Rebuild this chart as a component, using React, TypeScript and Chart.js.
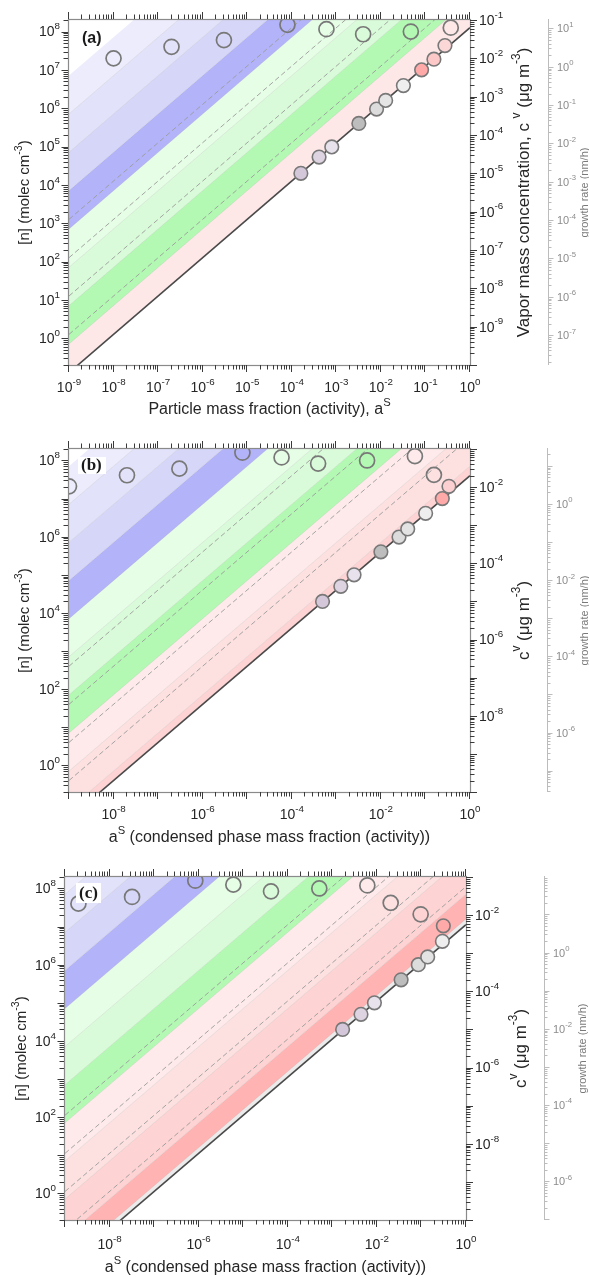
import React, { useEffect, useRef } from "react";
import { Chart, registerables } from "chart.js";

Chart.register(...registerables);

const SANS = '"Liberation Sans", Arial, Helvetica, sans-serif';
const SERIF = '"Liberation Serif", "Times New Roman", serif';

// ---- axis extents ----
const AS_MIN = 1e-9;
const AS_MAX = 1;
const N_MIN = 0.2;
const N_MAX = 2e8;
const CV_PER_N = 5e-10; // µg m^-3 per molec cm^-3

// ---- labelled decades ----
const X_EXP_A = [-9, -8, -7, -6, -5, -4, -3, -2, -1, 0];
const X_EXP_BC = [-8, -6, -4, -2, 0];
const N_EXP_A = [0, 1, 2, 3, 4, 5, 6, 7, 8];
const N_EXP_BC = [0, 2, 4, 6, 8];
const CV_EXP_A = [-9, -8, -7, -6, -5, -4, -3, -2, -1];
const CV_EXP_BC = [-8, -6, -4, -2];
const GR_EXP_A = [-7, -6, -5, -4, -3, -2, -1, 0, 1];
const GR_EXP_BC = [-6, -4, -2, 0];

// growth rate (nm/h) per molec cm^-3
const GR_PER_N_A = 8.3e-8;
const GR_PER_N_B = 1.38e-7;
const GR_PER_N_C = 4.8e-7;

// saturation [n] at a^s = 1
const SAT_A = 1.26e8;
const SAT_B = 4.0e7;
const SAT_C = 1.12e7;

// supersaturation of the dashed iso-lines
const DASH_RATIOS = [10, 100, 1000, 10000];

// band edges: log10 [n] at a^s = 1, top to bottom
const EDGES_A = [15.85, 14.85, 13.85, 12.85, 11.85, 10.85, 9.85, 8.85, 8.1];
const EDGES_B = [16.85, 15.85, 14.85, 13.85, 12.85, 11.85, 10.85, 9.85, 8.85, 7.85, 7.6];
const EDGES_C = [19, 16.85, 15.85, 14.85, 13.85, 12.85, 11.85, 10.85, 9.85, 8.85, 7.85, 7.2, 7.05];

// particle-phase points sitting on the saturation line
const FILLED_AS_A = [1.6e-4, 4.1e-4, 7.9e-4, 3.2e-3, 8.0e-3, 1.28e-2, 3.2e-2, 8.2e-2, 0.155, 0.274];
const FILLED_N_A = [2.0e4, 5.3e4, 9.8e4, 4.0e5, 9.5e5, 1.6e6, 3.9e6, 1.0e7, 1.9e7, 4.3e7];
const FILLED_AS_B = [4.9e-4, 1.26e-3, 2.5e-3, 1.0e-2, 2.55e-2, 4.0e-2, 0.101, 0.239, 0.337];
const FILLED_N_B = [2.0e4, 5.0e4, 1.0e5, 4.0e5, 9.8e5, 1.6e6, 4.1e6, 1.0e7, 2.1e7];
const FILLED_AS_C = [1.7e-3, 4.4e-3, 8.8e-3, 3.5e-2, 8.5e-2, 0.138, 0.295, 0.31];
const FILLED_N_C = [2.0e4, 5.0e4, 1.0e5, 4.0e5, 1.0e6, 1.6e6, 4.1e6, 1.05e7];

// open markers
const OPEN_AS_A = [1e-8, 2e-7, 3e-6, 8e-5, 6e-4, 4e-3, 4.7e-2, 0.37];
const OPEN_N_A = [2e7, 4e7, 6e7, 1.5e8, 1.15e8, 8.5e7, 1e8, 1.26e8];
const OPEN_AS_B = [1e-9, 2e-8, 3e-7, 7.8e-6, 5.9e-5, 3.9e-4, 4.9e-3, 5.8e-2, 0.155];
const OPEN_N_B = [2.1e7, 4.1e7, 6.1e7, 1.6e8, 1.2e8, 8.3e7, 1.0e8, 1.3e8, 4.2e7];
const OPEN_AS_C = [2e-9, 3.2e-8, 8.4e-7, 6e-6, 4.2e-5, 5.1e-4, 6.1e-3, 2.04e-2, 9.6e-2];
const OPEN_N_C = [4e7, 6e7, 1.6e8, 1.26e8, 8.4e7, 1.0e8, 1.2e8, 4.2e7, 2.1e7];

// ---- colours ----
const LAV1 = "#ececfc";
const LAV2 = "#e2e2fa";
const LAV3 = "#d6d6f8";
const BLUE = "#b3b3fa";
const PGREEN1 = "#e6fde6";
const PGREEN2 = "#d9fbd9";
const GREEN = "#b3f9b3";
const PINK1 = "#feeaea";
const PINK2 = "#fde0e0";
const PINK3 = "#fdd3d3";
const RED = "#ffb3b3";
const GREYSTRIP = "#ebebeb";

const COLORS_A = [LAV1, LAV2, LAV3, BLUE, PGREEN1, PGREEN2, GREEN, "#fde7e7"];
const COLORS_B = [LAV1, LAV2, LAV3, BLUE, PGREEN1, PGREEN2, GREEN, PINK1, PINK2, PINK3];
const COLORS_C = ["#ededfc", LAV2, LAV3, BLUE, PGREEN1, PGREEN2, GREEN, PINK1, PINK2, PINK3, RED, GREYSTRIP];

const FILL_A = ["#d5c7da", "#ddd3e1", "#e7e2eb", "#bdbdbd", "#dcdcdc", "#e5e5e5", "#efefef", "#ffa9a9", "#fcc8c8", "#fcd7d7"];
const FILL_B = ["#d5c7da", "#ddd3e1", "#e7e2eb", "#bdbdbd", "#dcdcdc", "#e3e3e3", "#eeeeee", "#ffa9a9", "#fcd0d0"];
const FILL_C = ["#d5c7da", "#ddd3e1", "#e7e2eb", "#bdbdbd", "#dcdcdc", "#e3e3e3", "#eeeeee", "#ffa9a9"];

type Seg = { t: string; sup?: boolean };

interface PanelSpec {
  key: string;
  tag: string;
  tagFont: string;
  tagX: number;
  tagY: number;
  tagBox: null | { x: number; y: number; w: number; h: number };
  top: number;
  height: number;
  area: { left: number; top: number; right: number; bottom: number };
  grX: number;
  sat: number;
  edges: number[];
  colors: string[];
  filledA: number[];
  filledN: number[];
  filledColors: string[];
  openA: number[];
  openN: number[];
  xExp: number[];
  nExp: number[];
  cvExp: number[];
  grExp: number[];
  grPerN: number;
  xTitle: Seg[];
  cvTitle: Seg[];
  labelY: number;
  titleY: number;
  leftTitleX: number;
  rightTitleX: number;
  grTitleX: number;
}

const LEFT_TITLE: Seg[] = [{ t: "[n] (molec cm" }, { t: "-3", sup: true }, { t: ")" }];
const GR_TITLE: Seg[] = [{ t: "growth rate (nm/h)" }];
const XT_A: Seg[] = [{ t: "Particle mass fraction (activity), a" }, { t: "S", sup: true }];
const XT_BC: Seg[] = [{ t: "a" }, { t: "S", sup: true }, { t: " (condensed phase mass fraction (activity))" }];
const CVT_A: Seg[] = [
  { t: "Vapor mass concentration, c " },
  { t: "v", sup: true },
  { t: " (\u03bcg m" },
  { t: "-3", sup: true },
  { t: ")" },
];
const CVT_BC: Seg[] = [{ t: "c" }, { t: "v", sup: true }, { t: " (\u03bcg m" }, { t: "-3", sup: true }, { t: ")" }];

const PANELS: PanelSpec[] = [
  {
    key: "a",
    tag: "(a)",
    tagFont: `bold 16px ${SANS}`,
    tagX: 82,
    tagY: 39,
    tagBox: null,
    top: 0,
    height: 428,
    area: { left: 69, top: 20, right: 470, bottom: 365 },
    grX: 548,
    sat: SAT_A,
    edges: EDGES_A,
    colors: COLORS_A,
    filledA: FILLED_AS_A,
    filledN: FILLED_N_A,
    filledColors: FILL_A,
    openA: OPEN_AS_A,
    openN: OPEN_N_A,
    xExp: X_EXP_A,
    nExp: N_EXP_A,
    cvExp: CV_EXP_A,
    grExp: GR_EXP_A,
    grPerN: GR_PER_N_A,
    xTitle: XT_A,
    cvTitle: CVT_A,
    labelY: 388,
    titleY: 410,
    leftTitleX: 25,
    rightTitleX: 524,
    grTitleX: 585,
  },
  {
    key: "b",
    tag: "(b)",
    tagFont: `bold 17px ${SERIF}`,
    tagX: 81,
    tagY: 38,
    tagBox: { x: 78, y: 29, w: 28, h: 17 },
    top: 428,
    height: 428,
    area: { left: 69, top: 21, right: 470, bottom: 364 },
    grX: 547,
    sat: SAT_B,
    edges: EDGES_B,
    colors: COLORS_B,
    filledA: FILLED_AS_B,
    filledN: FILLED_N_B,
    filledColors: FILL_B,
    openA: OPEN_AS_B,
    openN: OPEN_N_B,
    xExp: X_EXP_BC,
    nExp: N_EXP_BC,
    cvExp: CV_EXP_BC,
    grExp: GR_EXP_BC,
    grPerN: GR_PER_N_B,
    xTitle: XT_BC,
    cvTitle: CVT_BC,
    labelY: 387,
    titleY: 410,
    leftTitleX: 25,
    rightTitleX: 524,
    grTitleX: 585,
  },
  {
    key: "c",
    tag: "(c)",
    tagFont: `bold 17px ${SERIF}`,
    tagX: 79,
    tagY: 38,
    tagBox: { x: 76, y: 27, w: 25, h: 20 },
    top: 856,
    height: 421,
    area: { left: 65, top: 21, right: 466, bottom: 364 },
    grX: 544,
    sat: SAT_C,
    edges: EDGES_C,
    colors: COLORS_C,
    filledA: FILLED_AS_C,
    filledN: FILLED_N_C,
    filledColors: FILL_C,
    openA: OPEN_AS_C,
    openN: OPEN_N_C,
    xExp: X_EXP_BC,
    nExp: N_EXP_BC,
    cvExp: CV_EXP_BC,
    grExp: GR_EXP_BC,
    grPerN: GR_PER_N_C,
    xTitle: XT_BC,
    cvTitle: CVT_BC,
    labelY: 389,
    titleY: 412,
    leftTitleX: 22,
    rightTitleX: 521,
    grTitleX: 583,
  },
];

// ---------- drawing helpers ----------
function drawRich(
  ctx: CanvasRenderingContext2D,
  segs: Seg[],
  x: number,
  y: number,
  size: number,
  color: string,
  align: "left" | "center" | "right",
  angle = 0
) {
  const supSize = size * 0.7;
  const fontFor = (s: Seg) => `${s.sup ? supSize : size}px ${SANS}`;
  let total = 0;
  for (const s of segs) {
    ctx.font = fontFor(s);
    total += ctx.measureText(s.t).width;
  }
  ctx.save();
  ctx.translate(x, y);
  if (angle) ctx.rotate(angle);
  ctx.fillStyle = color;
  ctx.textAlign = "left";
  ctx.textBaseline = "middle";
  let cx = align === "center" ? -total / 2 : align === "right" ? -total : 0;
  for (const s of segs) {
    ctx.font = fontFor(s);
    ctx.fillText(s.t, cx, s.sup ? -size * 0.42 : 0);
    cx += ctx.measureText(s.t).width;
  }
  ctx.restore();
}

function powLabel(e: number): Seg[] {
  return [{ t: "10" }, { t: String(e), sup: true }];
}

function logTicks(min: number, max: number) {
  const out: { v: number; major: boolean }[] = [];
  const e0 = Math.floor(Math.log10(min));
  const e1 = Math.ceil(Math.log10(max));
  for (let e = e0; e <= e1; e++) {
    for (let m = 1; m <= 9; m++) {
      const v = m * Math.pow(10, e);
      if (v >= min * 0.999999 && v <= max * 1.000001) out.push({ v, major: m === 1 });
    }
  }
  return out;
}

const crisp = (p: number) => Math.round(p) + 0.5;

function makeAxesPlugin(spec: PanelSpec) {
  return {
    id: "panelAxes" + spec.key,
    afterDraw(chart: any) {
      const ctx: CanvasRenderingContext2D = chart.ctx;
      const { left, right, top, bottom } = chart.chartArea;
      const sx = chart.scales.x;
      const sy = chart.scales.y;
      const sr = chart.scales.yR;
      const sg = chart.scales.yG;
      const TEXT = "#262626";
      const TICK = "#3a3a3a";
      ctx.save();

      // frame
      ctx.strokeStyle = "#8a8a8a";
      ctx.lineWidth = 1.2;
      ctx.strokeRect(crisp(left) - 1, crisp(top) - 1, Math.round(right - left) + 1, Math.round(bottom - top) + 1);

      // x ticks (bottom + top)
      ctx.strokeStyle = TICK;
      ctx.lineWidth = 1;
      ctx.beginPath();
      for (const t of logTicks(AS_MIN, AS_MAX)) {
        const px = crisp(sx.getPixelForValue(t.v)) - 1;
        const len = t.major ? 7 : 4.5;
        ctx.moveTo(px, bottom);
        ctx.lineTo(px, bottom + len);
        ctx.moveTo(px, top - 1);
        ctx.lineTo(px, top - 1 - len);
      }
      // left [n] ticks
      for (const t of logTicks(N_MIN, N_MAX)) {
        const py = crisp(sy.getPixelForValue(t.v));
        const len = t.major ? 6.5 : 4.5;
        ctx.moveTo(left - 1, py);
        ctx.lineTo(left - 1 - len, py);
      }
      // right c^v ticks
      for (const t of logTicks(N_MIN * CV_PER_N, N_MAX * CV_PER_N)) {
        const py = crisp(sr.getPixelForValue(t.v));
        const len = t.major ? 7 : 4.5;
        ctx.moveTo(right, py);
        ctx.lineTo(right + len, py);
      }
      ctx.stroke();

      // growth-rate axis
      const gx = crisp(spec.grX);
      ctx.strokeStyle = "#bcbcbc";
      ctx.lineWidth = 1;
      ctx.beginPath();
      ctx.moveTo(gx, top - 1);
      ctx.lineTo(gx, bottom);
      for (const t of logTicks(N_MIN * spec.grPerN, N_MAX * spec.grPerN)) {
        const py = crisp(sg.getPixelForValue(t.v));
        const len = t.major ? 5 : 3;
        ctx.moveTo(gx, py);
        ctx.lineTo(gx + len, py);
      }
      ctx.stroke();

      // tick labels
      for (const e of spec.xExp) {
        drawRich(ctx, powLabel(e), sx.getPixelForValue(Math.pow(10, e)), spec.labelY, 14, TEXT, "center");
      }
      for (const e of spec.nExp) {
        drawRich(ctx, powLabel(e), left - 9, sy.getPixelForValue(Math.pow(10, e)) + 1, 14, TEXT, "right");
      }
      for (const e of spec.cvExp) {
        drawRich(ctx, powLabel(e), right + 9, sr.getPixelForValue(Math.pow(10, e)) + 1, 14, TEXT, "left");
      }
      for (const e of spec.grExp) {
        drawRich(ctx, powLabel(e), spec.grX + 9, sg.getPixelForValue(Math.pow(10, e)) + 1, 11, "#8c8c8c", "left");
      }

      // axis titles
      const midY = (top + bottom) / 2;
      drawRich(ctx, spec.xTitle, (left + right) / 2, spec.titleY, 16, TEXT, "center");
      drawRich(ctx, LEFT_TITLE, spec.leftTitleX, midY, 15, TEXT, "center", -Math.PI / 2);
      drawRich(ctx, spec.cvTitle, spec.rightTitleX, midY, 17, TEXT, "center", -Math.PI / 2);
      drawRich(ctx, GR_TITLE, spec.grTitleX, midY, 11, "#7a7a7a", "center", -Math.PI / 2);

      // panel tag
      if (spec.tagBox) {
        ctx.fillStyle = "#ffffff";
        ctx.fillRect(spec.tagBox.x, spec.tagBox.y, spec.tagBox.w, spec.tagBox.h);
      }
      ctx.fillStyle = "#1a1a1a";
      ctx.font = spec.tagFont;
      ctx.textAlign = "left";
      ctx.textBaseline = "middle";
      ctx.fillText(spec.tag, spec.tagX, spec.tagY);

      ctx.restore();
    },
  };
}

function straightLine(k: number) {
  // [n] = k * a^s across the whole a^s range
  return [
    { x: AS_MIN, y: k * AS_MIN },
    { x: AS_MAX, y: k * AS_MAX },
  ];
}

function hiddenAxis(extra: any) {
  return {
    type: "logarithmic",
    bounds: "data",
    display: true,
    grid: { display: false, drawTicks: false },
    border: { display: false },
    ticks: { display: false },
    title: { display: false },
    ...extra,
  };
}

function buildConfig(spec: PanelSpec): any {
  const W = 589;
  const datasets: any[] = [];

  spec.edges.forEach((e, i) => {
    datasets.push({
      data: straightLine(Math.pow(10, e)),
      borderColor: i === 0 ? "rgba(0,0,0,0)" : "rgba(120,120,120,0.18)",
      borderWidth: 0.8,
      pointRadius: 0,
      fill: i === 0 ? false : "-1",
      backgroundColor: i === 0 ? "rgba(0,0,0,0)" : spec.colors[i - 1],
      order: 4,
    });
  });

  DASH_RATIOS.forEach((r) => {
    datasets.push({
      data: straightLine(spec.sat * r),
      borderColor: "#9b9b9b",
      borderWidth: 0.9,
      borderDash: [5, 3],
      pointRadius: 0,
      fill: false,
      order: 3,
    });
  });

  datasets.push({
    data: straightLine(spec.sat),
    borderColor: "#4a4a4a",
    borderWidth: 1.6,
    pointRadius: 0,
    fill: false,
    order: 2,
  });

  datasets.push({
    data: spec.openA.map((a, i) => ({ x: a, y: spec.openN[i] })),
    showLine: false,
    fill: false,
    pointRadius: 7.5,
    pointBackgroundColor: "rgba(0,0,0,0)",
    pointBorderColor: "#787878",
    pointBorderWidth: 1.7,
    clip: 0,
    order: 1,
  });

  datasets.push({
    data: spec.filledA.map((a, i) => ({ x: a, y: spec.filledN[i] })),
    showLine: false,
    fill: false,
    pointRadius: 6.8,
    pointBackgroundColor: spec.filledColors,
    pointBorderColor: "#787878",
    pointBorderWidth: 1.6,
    clip: 0,
    order: 0,
  });

  return {
    type: "line",
    data: { datasets },
    options: {
      responsive: false,
      maintainAspectRatio: false,
      animation: false,
      events: [],
      layout: { padding: 0 },
      plugins: {
        legend: { display: false },
        tooltip: { enabled: false },
        filler: { drawTime: "beforeDatasetsDraw" },
      },
      scales: {
        x: hiddenAxis({
          position: "bottom",
          min: AS_MIN,
          max: AS_MAX,
          afterFit: (s: any) => {
            s.height = spec.height - spec.area.bottom;
          },
        }),
        xTop: hiddenAxis({
          position: "top",
          min: AS_MIN,
          max: AS_MAX,
          afterFit: (s: any) => {
            s.height = spec.area.top;
          },
        }),
        y: hiddenAxis({
          position: "left",
          min: N_MIN,
          max: N_MAX,
          afterFit: (s: any) => {
            s.width = spec.area.left;
          },
        }),
        yR: hiddenAxis({
          position: "right",
          weight: 0,
          min: N_MIN * CV_PER_N,
          max: N_MAX * CV_PER_N,
          afterFit: (s: any) => {
            s.width = spec.grX - spec.area.right;
          },
        }),
        yG: hiddenAxis({
          position: "right",
          weight: 1,
          min: N_MIN * spec.grPerN,
          max: N_MAX * spec.grPerN,
          afterFit: (s: any) => {
            s.width = W - spec.grX;
          },
        }),
      },
    },
    plugins: [makeAxesPlugin(spec)],
  };
}

function Panel({ spec }: { spec: PanelSpec }) {
  const ref = useRef<HTMLCanvasElement>(null);
  useEffect(() => {
    if (!ref.current) return;
    const chart = new Chart(ref.current, buildConfig(spec));
    return () => chart.destroy();
  }, [spec]);
  return (
    <canvas
      ref={ref}
      width={589}
      height={spec.height}
      style={{ position: "absolute", left: 0, top: spec.top, width: 589, height: spec.height }}
    />
  );
}

export default function App() {
  return (
    <div
      style={{
        position: "absolute",
        left: 0,
        top: 0,
        width: 589,
        height: 1277,
        background: "#ffffff",
        overflow: "hidden",
      }}
    >
      {PANELS.map((p) => (
        <Panel key={p.key} spec={p} />
      ))}
    </div>
  );
}
